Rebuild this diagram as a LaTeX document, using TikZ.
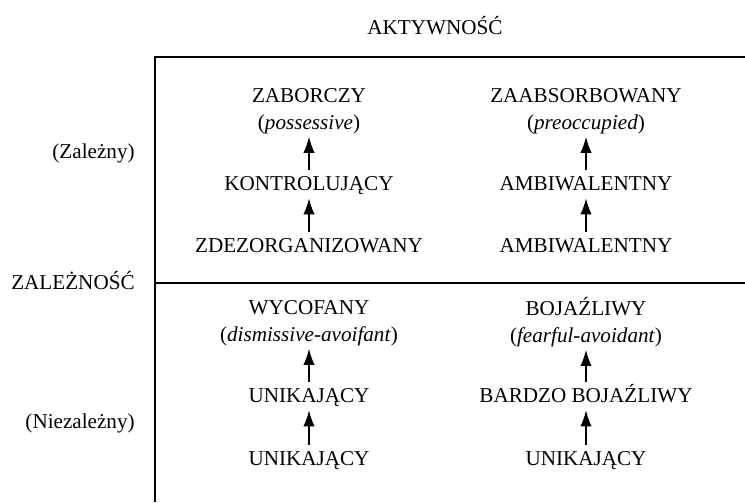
\documentclass[tikz,border=0pt]{standalone}
\usepackage{fontspec}
\setmainfont{Liberation Serif}
\usetikzlibrary{arrows.meta,positioning}
\tikzset{
  lbl/.style={inner sep=0pt,align=center},
  one/.style={lbl,text height=7.5pt,text depth=2.4pt},
  side/.style={inner sep=0pt,anchor=east},
  up/.style={-{Latex[length=8.5pt,width=6pt]},line width=0.6pt,shorten >=1.5pt,shorten <=3.5pt},
}
\begin{document}
\begin{tikzpicture}[x=0.01879cm,y=0.01879cm,font=\fontsize{11.3pt}{14.4pt}\selectfont]
\useasboundingbox (0,0) rectangle (745,502);
% frame
\draw[line width=0.7pt] (155,0)--(155,445)--(745,445);
\draw[line width=0.7pt] (155,219)--(745,219);
% axis labels
\node[lbl] (akt) at (435,476) {AKTYWNOŚĆ};
\node[side] (zal) at (135,349) {(Zależny)};
\node[side] (zaln) at (135,221) {ZALEŻNOŚĆ};
\node[side] (niez) at (135,79) {(Niezależny)};
% upper left
\node[lbl] (zab) at (309,391) {ZABORCZY\\(\textit{possessive})};
\node[one] (kon) at (309,316) {KONTROLUJĄCY};
\node[one] (zdez) at (309,254) {ZDEZORGANIZOWANY};
\draw[up] (kon)--(zab);
\draw[up] (zdez)--(kon);
% upper right
\node[lbl] (zaab) at (586,391) {ZAABSORBOWANY\\(\textit{preoccupied})};
\node[one] (amb1) at (586,316) {AMBIWALENTNY};
\node[one] (amb2) at (586,254) {AMBIWALENTNY};
\draw[up] (amb1)--(zaab);
\draw[up] (amb2)--(amb1);
% lower left
\node[lbl] (wyc) at (309,179) {WYCOFANY\\(\textit{dismissive-avoifant})};
\node[one] (uni1) at (309,104) {UNIKAJĄCY};
\node[one] (uni2) at (309,41) {UNIKAJĄCY};
\draw[up] (uni1)--(wyc);
\draw[up] (uni2)--(uni1);
% lower right
\node[lbl] (boj) at (586,180) {BOJAŹLIWY\\(\textit{fearful-avoidant})};
\node[one] (bboj) at (586,104) {BARDZO BOJAŹLIWY};
\node[one] (uni3) at (586,41) {UNIKAJĄCY};
\draw[up] (bboj)--(boj);
\draw[up] (uni3)--(bboj);
\end{tikzpicture}
\end{document}
